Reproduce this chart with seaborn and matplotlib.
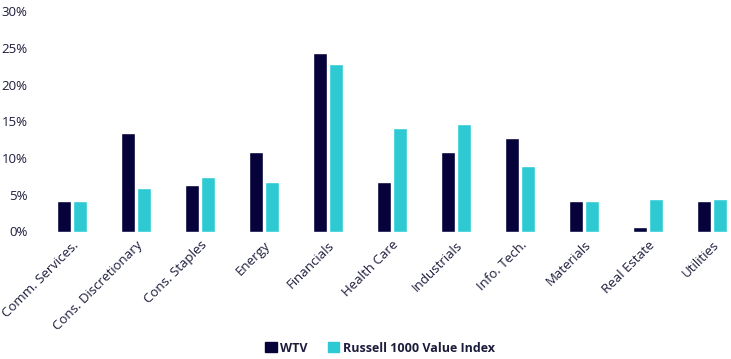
import numpy as np
import pandas as pd
import seaborn as sns
import matplotlib.pyplot as plt
from matplotlib.patches import Patch
from matplotlib.ticker import PercentFormatter

# sector weights (in %)
sectors = ["Comm. Services.", "Cons. Discretionary", "Cons. Staples", "Energy",
           "Financials", "Health Care", "Industrials", "Info. Tech.",
           "Materials", "Real Estate", "Utilities"]
wtv = [4.2, 13.5, 6.4, 10.9, 24.4, 6.7, 10.9, 12.7, 4.1, 0.55, 4.1]
russell = [4.2, 6.0, 7.5, 6.7, 22.8, 14.05, 14.7, 8.9, 4.2, 4.5, 4.5]
series_names = ["WTV", "Russell 1000 Value Index"]
y_ticks = [0, 5, 10, 15, 20, 25, 30]

navy = "#05033a"
teal = "#2ecad3"
text_col = "#1c1c3c"

df = pd.DataFrame({
    "sector": sectors * 2,
    "weight": wtv + russell,
    "series": [series_names[0]] * len(sectors) + [series_names[1]] * len(sectors),
})

sns.set_theme(style="white")
plt.rcParams["font.family"] = ["Open Sans", "DejaVu Sans"]

fig = plt.figure(figsize=(7.31, 3.59), dpi=100)
# axes placed by pixel so the bars land where the reference has them
ax = fig.add_axes([40 / 731, (359 - 231.5) / 359, (731 - 40) / 731, 220 / 359])

sns.barplot(data=df, x="sector", y="weight", hue="series", order=sectors,
            hue_order=series_names, palette=[navy, teal], width=0.5, gap=0.1,
            saturation=1, legend=False, ax=ax)

ax.set_xlim(-0.5, -0.5 + 691 / 64)
ax.set_ylim(0, 30)
ax.set_yticks(y_ticks)
ax.yaxis.set_major_formatter(PercentFormatter(decimals=0))
ax.set_xlabel("")
ax.set_ylabel("")
sns.despine(ax=ax, left=True, bottom=True)
ax.tick_params(axis="both", length=0, labelsize=9.5, colors=text_col)
ax.tick_params(axis="y", pad=9)
ax.tick_params(axis="x", pad=5)
for lab in ax.get_xticklabels():
    lab.set_rotation(45)
    lab.set_ha("right")
    lab.set_rotation_mode("anchor")

handles = [Patch(color=navy, label=series_names[0]),
           Patch(color=teal, label=series_names[1])]
fig.legend(handles=handles, loc="center", bbox_to_anchor=(380 / 731, 1 - 348 / 359),
           ncol=2, frameon=False, handlelength=0.9, handleheight=0.9,
           handletextpad=0.3, columnspacing=1.6,
           prop={"weight": "bold", "size": 9}, labelcolor=text_col)

fig.savefig("out.png", dpi=100)
